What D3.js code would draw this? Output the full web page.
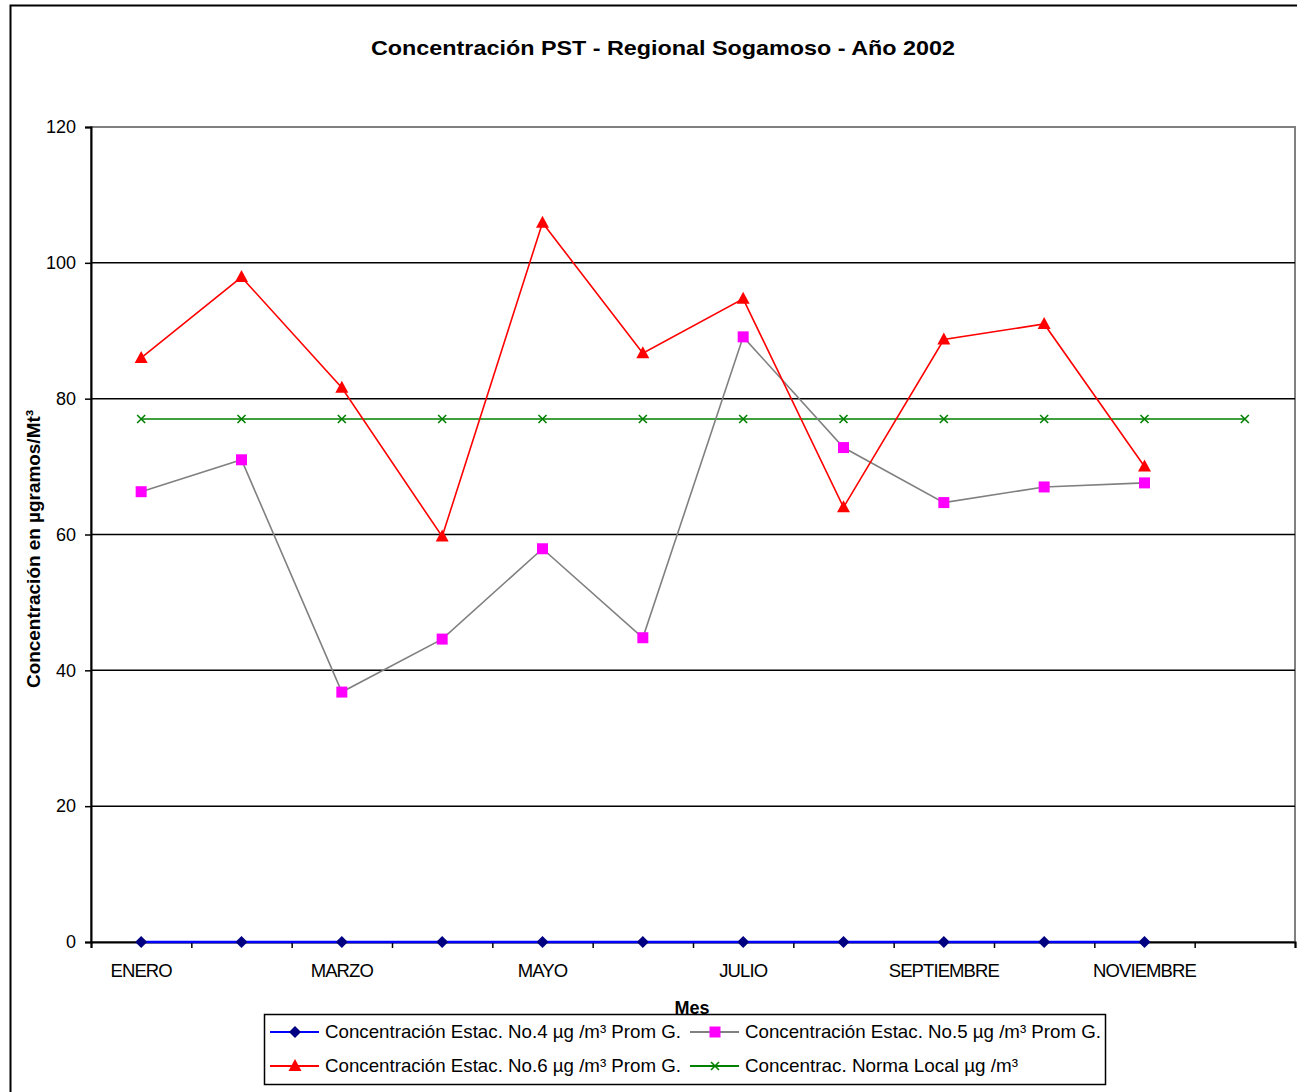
<!DOCTYPE html>
<html><head><meta charset="utf-8">
<script src="https://cdn.jsdelivr.net/npm/d3@7"></script>
<style>body{margin:0;background:#fff}svg{display:block;font-family:"Liberation Sans",Arial,sans-serif}</style>
</head><body>
<svg id="c" width="1297" height="1092"></svg>
<script>
const months = ["ENERO","FEBRERO","MARZO","ABRIL","MAYO","JUNIO","JULIO","AGOSTO","SEPTIEMBRE","OCTUBRE","NOVIEMBRE","DICIEMBRE"];
const est4 = [0,0,0,0,0,0,0,0,0,0,0];
const est5 = [66.3,71.0,36.8,44.6,57.9,44.8,89.1,72.8,64.7,67.0,67.6];
const est6 = [86.0,97.9,81.6,59.7,105.9,86.7,94.7,64.0,88.7,91.0,70.0];
const norma = [77,77,77,77,77,77,77,77,77,77,77,77];
const yTicks = [0,20,40,60,80,100,120];
const names = ["Concentración Estac. No.4 µg /m³ Prom G.","Concentración Estac. No.5 µg /m³ Prom G.","Concentración Estac. No.6 µg /m³ Prom G.","Concentrac. Norma Local µg /m³"];

const svg = d3.select("#c");
const L=91,R=1295,T=127,B=942;
const x = d3.scaleLinear().domain([0,12]).range([L,R]);
const y = d3.scaleLinear().domain([0,120]).range([B,T]);

svg.append("rect").attr("x",10.5).attr("y",5.5).attr("width",1300).attr("height",1100).attr("fill","none").attr("stroke","#000").attr("stroke-width",2);

svg.append("text").attr("x",663).attr("y",55).attr("text-anchor","middle").attr("font-size",21).attr("font-weight","bold")
  .attr("textLength",584).attr("lengthAdjust","spacingAndGlyphs").text("Concentración PST - Regional Sogamoso - Año 2002");

svg.append("rect").attr("x",L).attr("y",T).attr("width",R-L).attr("height",B-T).attr("fill","none").attr("stroke","#808080").attr("stroke-width",2);

svg.append("g").selectAll("line").data(yTicks.filter(v=>v>0&&v<120)).join("line")
  .attr("x1",L).attr("x2",R).attr("y1",d=>y(d)).attr("y2",d=>y(d)).attr("stroke","#000").attr("stroke-width",1.5);

const ya = svg.append("g").attr("transform",`translate(${L},0)`).call(d3.axisLeft(y).tickValues(yTicks).tickSize(6).tickPadding(9));
ya.select(".domain").attr("stroke","#000").attr("stroke-width",2);
ya.selectAll("text").attr("font-size",18).attr("font-family","Liberation Sans, Arial").attr("fill","#000");
ya.selectAll("line").attr("stroke","#000").attr("stroke-width",1.5);

const xa = svg.append("g").attr("transform",`translate(0,${B})`).call(d3.axisBottom(x).tickValues(d3.range(0,13)).tickFormat("").tickSize(6));
xa.select(".domain").attr("stroke","#000").attr("stroke-width",2);
xa.selectAll("line").attr("stroke","#000").attr("stroke-width",1.5);
svg.append("g").selectAll("text").data(months.map((m,i)=>({m,i})).filter(d=>d.i%2===0)).join("text")
  .attr("x",d=>x(d.i+0.5)).attr("y",977).attr("text-anchor","middle").attr("font-size",18.5).attr("letter-spacing",-0.9).text(d=>d.m);

svg.append("text").attr("x",692).attr("y",1014).attr("text-anchor","middle").attr("font-size",18).attr("font-weight","bold").text("Mes");
svg.append("text").attr("transform","translate(40,549) rotate(-90)").attr("text-anchor","middle").attr("font-size",18.5).attr("font-weight","bold")
  .attr("textLength",278).attr("lengthAdjust","spacingAndGlyphs").text("Concentración en µgramos/Mt³");

const line = d3.line().x((d,i)=>x(i+0.5)).y(d=>y(d));
function marker(g, type, color){
  if(type==="diamond") g.append("path").attr("d","M0,-6L6,0L0,6L-6,0Z").attr("fill",color);
  if(type==="square") g.append("rect").attr("x",-5.5).attr("y",-5.5).attr("width",11).attr("height",11).attr("fill",color);
  if(type==="triangle") g.append("path").attr("d","M0,-7L6.5,5L-6.5,5Z").attr("fill",color);
  if(type==="x") g.append("path").attr("d","M-4,-4L4,4M-4,4L4,-4").attr("stroke",color).attr("stroke-width",1.6);
}
const series = [
  {data:norma,line:"#008000",mcol:"#008000",m:"x"},
  {data:est5,line:"#808080",mcol:"#ff00ff",m:"square"},
  {data:est6,line:"#ff0000",mcol:"#ff0000",m:"triangle"},
  {data:est4,line:"#0000ff",mcol:"#000080",m:"diamond"}
];
series.forEach(s=>{
  svg.append("path").attr("d",line(s.data)).attr("fill","none").attr("stroke",s.line).attr("stroke-width",s.m==="diamond"?2.5:1.6);
  s.data.forEach((v,i)=>{ marker(svg.append("g").attr("transform",`translate(${x(i+0.5)},${y(v)})`), s.m, s.mcol); });
});

const lg = svg.append("g");
lg.append("rect").attr("x",264.5).attr("y",1014.5).attr("width",841).attr("height",70).attr("fill","#fff").attr("stroke","#000").attr("stroke-width",1.5);
const items = [
  {n:names[0],x:270,y:1032,w:356,line:"#0000ff",mcol:"#000080",m:"diamond"},
  {n:names[1],x:690,y:1032,w:356,line:"#808080",mcol:"#ff00ff",m:"square"},
  {n:names[2],x:270,y:1066,w:356,line:"#ff0000",mcol:"#ff0000",m:"triangle"},
  {n:names[3],x:690,y:1066,w:273,line:"#008000",mcol:"#008000",m:"x"}
];
items.forEach(it=>{
  lg.append("line").attr("x1",it.x).attr("x2",it.x+49).attr("y1",it.y).attr("y2",it.y).attr("stroke",it.line).attr("stroke-width",2);
  marker(lg.append("g").attr("transform",`translate(${it.x+25},${it.y})`), it.m, it.mcol);
  lg.append("text").attr("x",it.x+55).attr("y",it.y+6).attr("font-size",18.5)
    .attr("textLength",it.w).attr("lengthAdjust","spacingAndGlyphs").text(it.n);
});
</script>
</body></html>
